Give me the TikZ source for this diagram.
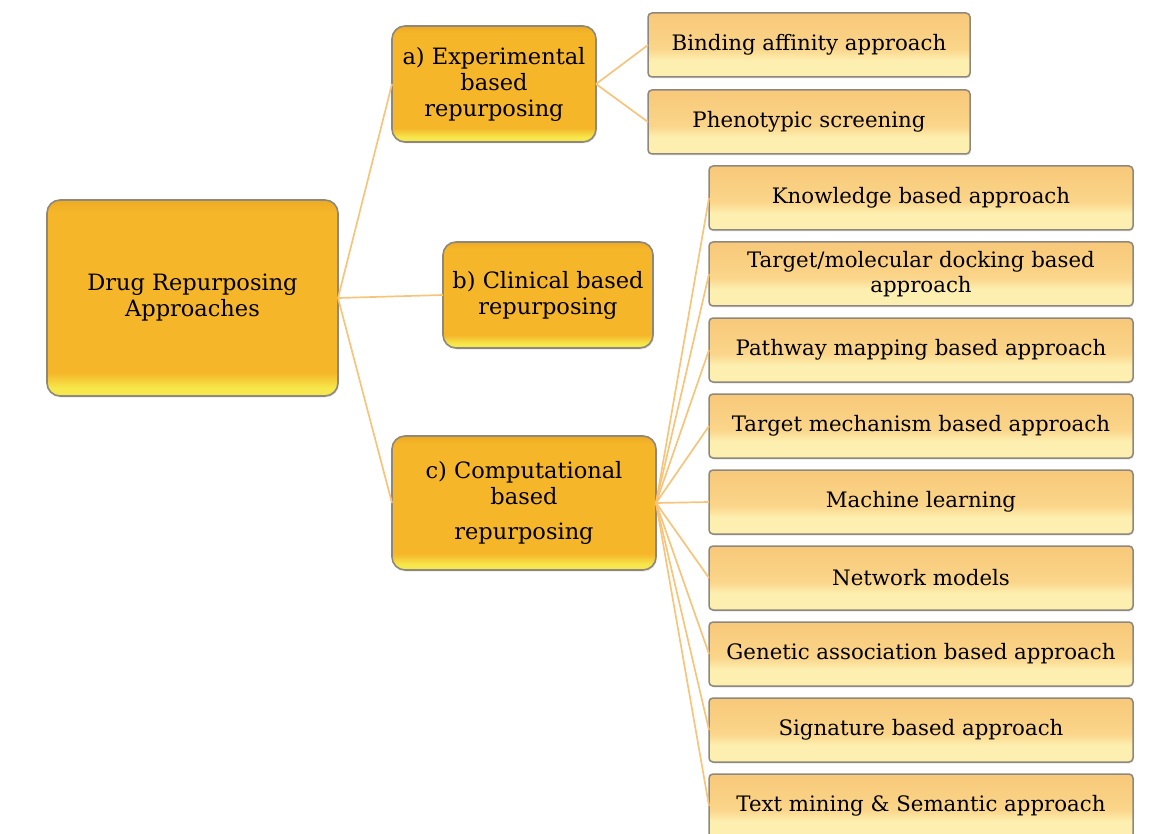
\documentclass[tikz,border=0pt]{standalone}
\usepackage{fontspec}
\setmainfont{DejaVu Serif}
\usetikzlibrary{positioning,shadows}

\definecolor{linkorange}{HTML}{F7C47C}
\definecolor{goldmain}{HTML}{F5B62A}
\definecolor{goldtop}{HTML}{EDAA22}
\definecolor{goldglow}{HTML}{F6E84C}
\definecolor{sandtop}{HTML}{F8C97A}
\definecolor{sandmain}{HTML}{FAD58A}
\definecolor{sandglow}{HTML}{FDEFB0}
\definecolor{edgegray}{HTML}{8E887C}

\pgfdeclareverticalshading{goldfill}{100bp}{color(0bp)=(goldglow); color(27bp)=(goldglow); color(31bp)=(goldmain); color(72bp)=(goldmain); color(75bp)=(goldtop); color(100bp)=(goldtop)}
\pgfdeclareverticalshading{sandfill}{100bp}{color(0bp)=(sandglow); color(38bp)=(sandglow); color(47bp)=(sandmain); color(73bp)=(sandtop); color(100bp)=(sandtop)}

\begin{document}
\begin{tikzpicture}[x=1pt,y=-1pt,
    every node/.style={inner sep=0pt, outer sep=0pt, align=center, text=black},
    topic/.style={rounded corners=13pt, shading=goldfill, draw=edgegray, line width=1.6pt,
        drop shadow={opacity=0.2, shadow xshift=1pt, shadow yshift=-1.5pt},
        font=\fontsize{22.5}{26}\selectfont},
    method/.style={rounded corners=4pt, shading=sandfill, draw=edgegray, line width=1.5pt,
        minimum width=424pt, minimum height=64pt,
        drop shadow={opacity=0.2, shadow xshift=1pt, shadow yshift=-1.5pt},
        font=\fontsize{21.3}{24.5}\selectfont},
    link/.style={linkorange, line width=1.7pt}]
    \clip (0,0) rectangle (1159,834);

    % Main approach and its three branches
    \node[topic, minimum width=291pt, minimum height=196pt] (drug) at (192.5,298) {Drug Repurposing\\Approaches};
    \node[topic, minimum width=204pt, minimum height=116pt] (expt) at (494,84) {a) Experimental\\based\\repurposing};
    \node[topic, minimum width=210pt, minimum height=106pt] (clin) at (548,295) {b) Clinical based\\repurposing};
    \node[topic, minimum width=264pt, minimum height=134pt] (comp) at (524,503) {c) Computational\\based\\[9pt]repurposing};

    % Experimental methods
    \node[method, minimum width=322pt] (bind) at (809,45) {Binding affinity approach};
    \node[method, minimum width=322pt, below=13pt of bind] (pheno) {Phenotypic screening};

    % Computational methods
    \node[method] (know) at (921,198) {Knowledge based approach};
    \node[method, below=12pt of know] (dock) {Target/molecular docking based\\approach};
    \node[method, below=12pt of dock] (path) {Pathway mapping based approach};
    \node[method, below=12pt of path] (mech) {Target mechanism based approach};
    \node[method, below=12pt of mech] (mlearn) {Machine learning};
    \node[method, below=12pt of mlearn] (netw) {Network models};
    \node[method, below=12pt of netw] (genet) {Genetic association based approach};
    \node[method, below=12pt of genet] (sign) {Signature based approach};
    \node[method, below=12pt of sign] (textm) {Text mining \& Semantic approach};

    % Links
    \foreach \kid in {expt,clin,comp}
        \draw[link] (drug.east) -- (\kid.west);
    \foreach \kid in {bind,pheno}
        \draw[link] (expt.east) -- (\kid.west);
    \foreach \kid in {know,dock,path,mech,mlearn,netw,genet,sign,textm}
        \draw[link] (comp.east) -- (\kid.west);
\end{tikzpicture}
\end{document}
